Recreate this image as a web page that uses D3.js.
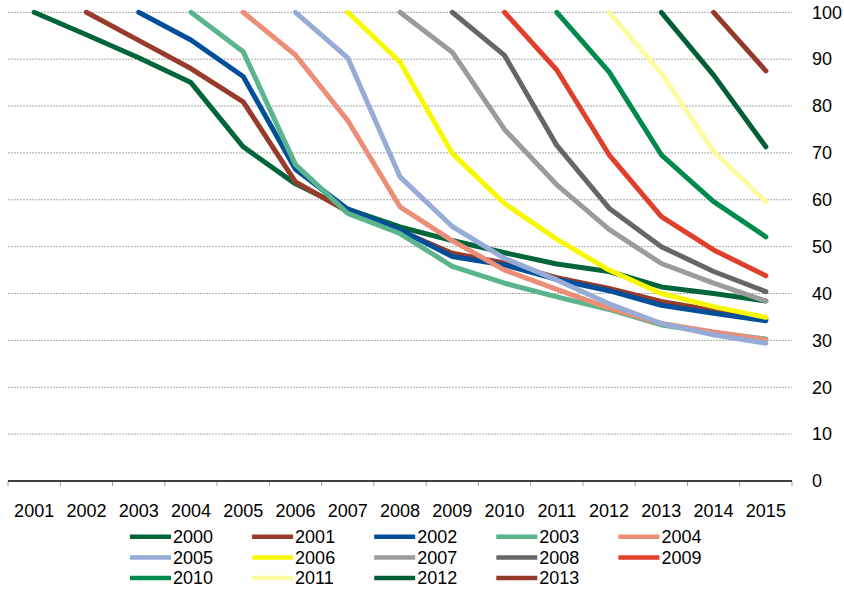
<!DOCTYPE html>
<html>
<head>
<meta charset="utf-8">
<script src="https://cdn.jsdelivr.net/npm/d3@7"></script>
<style>
  html, body { margin: 0; padding: 0; background: #fff; }
  svg { display: block; font-family: "Liberation Sans", Arial, sans-serif; }
</style>
</head>
<body>
<svg id="chart" width="844" height="591"></svg>
<script>
const categories = ["2001","2002","2003","2004","2005","2006","2007","2008","2009","2010","2011","2012","2013","2014","2015"];
const seriesNames = ["2000","2001","2002","2003","2004","2005","2006","2007","2008","2009","2010","2011","2012","2013"];
const seriesColors = ["#00663a","#973b2b","#004f98","#5ab48c","#ec8e76","#97abd7","#f8f800","#9b9b9b","#666666","#df3f2b","#008a4c","#fdfaa2","#005f37","#953a2b"];
const N = null;
const s2000 = [100, 95.2, 90.3, 85.0, 71.3, 63.4, 58.0, 54.2, 51.3, 48.7, 46.3, 44.7, 41.4, 40.0, 38.4];
const s2001 = [N, 100, 94.0, 88.0, 80.9, 63.8, 57.5, 53.4, 48.6, 46.5, 43.4, 41.1, 38.3, 36.4, 34.6];
const s2002 = [N, N, 100, 94.1, 86.3, 66.5, 58.0, 53.6, 47.9, 46.1, 43.0, 40.6, 37.5, 35.8, 34.2];
const s2003 = [N, N, N, 100, 91.6, 67.5, 57.1, 52.8, 45.8, 42.2, 39.3, 36.6, 33.3, 31.7, 30.3];
const s2004 = [N, N, N, N, 100, 90.9, 76.9, 58.5, 51.3, 45.0, 40.9, 36.9, 33.6, 31.8, 30.1];
const s2005 = [N, N, N, N, N, 100, 90.3, 64.9, 54.3, 47.5, 42.9, 37.8, 33.6, 31.2, 29.4];
const s2006 = [N, N, N, N, N, N, 100, 89.4, 69.9, 59.2, 51.6, 45.0, 40.0, 37.2, 34.9];
const s2007 = [N, N, N, N, N, N, N, 100, 91.5, 75.0, 63.2, 53.7, 46.4, 42.2, 38.4];
const s2008 = [N, N, N, N, N, N, N, N, 100, 90.8, 71.6, 58.2, 50.0, 44.7, 40.4];
const s2009 = [N, N, N, N, N, N, N, N, N, 100, 87.7, 69.6, 56.4, 49.3, 43.8];
const s2010 = [N, N, N, N, N, N, N, N, N, N, 100, 87.3, 69.6, 59.6, 52.1];
const s2011 = [N, N, N, N, N, N, N, N, N, N, N, 100, 87.0, 70.3, 59.6];
const s2012 = [N, N, N, N, N, N, N, N, N, N, N, N, 100, 86.6, 71.3];
const s2013 = [N, N, N, N, N, N, N, N, N, N, N, N, N, 100, 87.5];
const seriesValues = [s2000,s2001,s2002,s2003,s2004,s2005,s2006,s2007,s2008,s2009,s2010,s2011,s2012,s2013];
const yTicks = [0,10,20,30,40,50,60,70,80,90,100];

const svg = d3.select("#chart");
const plotLeft = 8, plotRight = 792, plotTop = 12.3, plotBottom = 481;

const x = d3.scaleBand().domain(categories).range([plotLeft, plotRight]).padding(0);
const y = d3.scaleLinear().domain([0, 100]).range([plotBottom, plotTop]);
const cx = c => x(c) + x.bandwidth() / 2;

// gridlines
svg.append("g").selectAll("line").data(yTicks.filter(t => t > 0)).join("line")
  .attr("x1", plotLeft).attr("x2", plotRight)
  .attr("y1", d => y(d)).attr("y2", d => y(d))
  .attr("stroke", "#a8a8a8").attr("stroke-width", 1)
  .attr("stroke-dasharray", "2,1");

// x tick marks at band boundaries
const edges = categories.map(c => x(c)).concat([plotRight]);
svg.append("g").selectAll("line").data(edges).join("line")
  .attr("x1", d => d).attr("x2", d => d)
  .attr("y1", plotBottom).attr("y2", plotBottom + 5)
  .attr("stroke", "#a0a0a0").attr("stroke-width", 1);

// x axis baseline
svg.append("line").attr("x1", plotLeft).attr("x2", plotRight)
  .attr("y1", plotBottom).attr("y2", plotBottom)
  .attr("stroke", "#000").attr("stroke-width", 1.3);

// x labels via axis
const xAxis = svg.append("g").attr("transform", `translate(0,${plotBottom})`)
  .call(d3.axisBottom(x).tickSize(0).tickPadding(0));
xAxis.select(".domain").remove();
xAxis.selectAll("text").attr("y", 36).attr("dy", 0)
  .style("font-size", "18px").style("font-family", "Liberation Sans, Arial, sans-serif").attr("fill", "#000");

// y axis on right
const yAxis = svg.append("g").attr("transform", `translate(812,0)`)
  .call(d3.axisRight(y).tickValues(yTicks).tickSize(0).tickPadding(0));
yAxis.select(".domain").remove();
yAxis.selectAll("text").style("font-size", "18px")
  .style("font-family", "Liberation Sans, Arial, sans-serif").attr("fill", "#000");

// lines
const line = d3.line()
  .defined(d => d.v !== null)
  .x(d => cx(d.c))
  .y(d => y(d.v));

const seriesData = seriesNames.map((name, i) => ({
  name, color: seriesColors[i],
  pts: categories.map((c, j) => ({ c, v: seriesValues[i][j] }))
}));

svg.append("g").selectAll("path").data(seriesData).join("path")
  .attr("d", d => line(d.pts))
  .attr("fill", "none")
  .attr("stroke", d => d.color)
  .attr("stroke-width", 5)
  .attr("stroke-linejoin", "round")
  .attr("stroke-linecap", "round");

// legend
const legend = svg.append("g");
const colW = 122.1, rowH = 20.7, lx0 = 130, ly0 = 536.7;
const items = legend.selectAll("g").data(seriesData).join("g")
  .attr("transform", (d, i) => `translate(${lx0 + (i % 5) * colW},${ly0 + Math.floor(i / 5) * rowH})`);
items.append("line").attr("x1", 0).attr("x2", 41).attr("y1", 0).attr("y2", 0)
  .attr("stroke", d => d.color).attr("stroke-width", 4.5);
items.append("text").attr("x", 43).attr("y", 0).attr("dy", "0.35em")
  .style("font-size", "18px").attr("fill", "#000").text(d => d.name);
</script>
</body>
</html>
